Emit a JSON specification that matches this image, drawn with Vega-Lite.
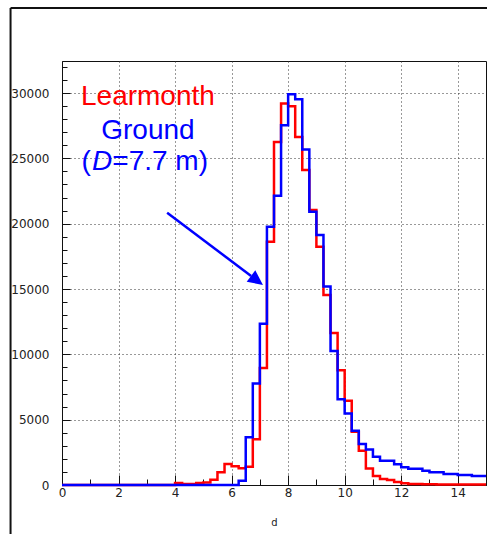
{
  "$schema": "https://vega.github.io/schema/vega-lite/v6.json",
  "width": 424,
  "height": 424,
  "autosize": {"type": "none"},
  "padding": {"left": 62, "top": 61, "right": 1, "bottom": 49},
  "background": "white",
  "config": {
    "view": {"stroke": "#111", "strokeWidth": 1},
    "axis": {"labelFont": "DejaVu Sans", "titleFont": "DejaVu Sans", "labelColor": "#222", "titleColor": "#222", "labelOverlap": false}
  },
  "datasets": {
    "hist": [
      {"series":"Learmonth","d":0,"count":0},{"series":"Learmonth","d":0.25,"count":0},{"series":"Learmonth","d":0.5,"count":0},{"series":"Learmonth","d":0.75,"count":0},
      {"series":"Learmonth","d":1,"count":0},{"series":"Learmonth","d":1.25,"count":0},{"series":"Learmonth","d":1.5,"count":0},{"series":"Learmonth","d":1.75,"count":0},
      {"series":"Learmonth","d":2,"count":0},{"series":"Learmonth","d":2.25,"count":0},{"series":"Learmonth","d":2.5,"count":0},{"series":"Learmonth","d":2.75,"count":0},
      {"series":"Learmonth","d":3,"count":0},{"series":"Learmonth","d":3.25,"count":0},{"series":"Learmonth","d":3.5,"count":0},{"series":"Learmonth","d":3.75,"count":0},
      {"series":"Learmonth","d":4,"count":150},{"series":"Learmonth","d":4.25,"count":80},{"series":"Learmonth","d":4.5,"count":80},{"series":"Learmonth","d":4.75,"count":150},
      {"series":"Learmonth","d":5,"count":200},{"series":"Learmonth","d":5.25,"count":410},{"series":"Learmonth","d":5.5,"count":970},{"series":"Learmonth","d":5.75,"count":1600},
      {"series":"Learmonth","d":6,"count":1430},{"series":"Learmonth","d":6.25,"count":1280},{"series":"Learmonth","d":6.5,"count":1400},{"series":"Learmonth","d":6.75,"count":3500},
      {"series":"Learmonth","d":7,"count":8950},{"series":"Learmonth","d":7.25,"count":18620},{"series":"Learmonth","d":7.5,"count":26250},{"series":"Learmonth","d":7.75,"count":29190},
      {"series":"Learmonth","d":8,"count":28980},{"series":"Learmonth","d":8.25,"count":26640},{"series":"Learmonth","d":8.5,"count":24100},{"series":"Learmonth","d":8.75,"count":21040},
      {"series":"Learmonth","d":9,"count":18240},{"series":"Learmonth","d":9.25,"count":14550},{"series":"Learmonth","d":9.5,"count":11630},{"series":"Learmonth","d":9.75,"count":8780},
      {"series":"Learmonth","d":10,"count":6440},{"series":"Learmonth","d":10.25,"count":4070},{"series":"Learmonth","d":10.5,"count":2620},{"series":"Learmonth","d":10.75,"count":1270},
      {"series":"Learmonth","d":11,"count":690},{"series":"Learmonth","d":11.25,"count":460},{"series":"Learmonth","d":11.5,"count":380},{"series":"Learmonth","d":11.75,"count":230},
      {"series":"Learmonth","d":12,"count":130},{"series":"Learmonth","d":12.25,"count":80},{"series":"Learmonth","d":12.5,"count":70},{"series":"Learmonth","d":12.75,"count":60},
      {"series":"Learmonth","d":13,"count":50},{"series":"Learmonth","d":13.25,"count":40},{"series":"Learmonth","d":13.5,"count":40},{"series":"Learmonth","d":13.75,"count":30},
      {"series":"Learmonth","d":14,"count":30},{"series":"Learmonth","d":14.25,"count":30},{"series":"Learmonth","d":14.5,"count":30},{"series":"Learmonth","d":14.75,"count":30},
      {"series":"Learmonth","d":15,"count":30},
      {"series":"Ground","d":0,"count":0},{"series":"Ground","d":0.25,"count":0},{"series":"Ground","d":0.5,"count":0},{"series":"Ground","d":0.75,"count":0},
      {"series":"Ground","d":1,"count":0},{"series":"Ground","d":1.25,"count":0},{"series":"Ground","d":1.5,"count":0},{"series":"Ground","d":1.75,"count":0},
      {"series":"Ground","d":2,"count":0},{"series":"Ground","d":2.25,"count":0},{"series":"Ground","d":2.5,"count":0},{"series":"Ground","d":2.75,"count":0},
      {"series":"Ground","d":3,"count":0},{"series":"Ground","d":3.25,"count":0},{"series":"Ground","d":3.5,"count":0},{"series":"Ground","d":3.75,"count":0},
      {"series":"Ground","d":4,"count":0},{"series":"Ground","d":4.25,"count":0},{"series":"Ground","d":4.5,"count":0},{"series":"Ground","d":4.75,"count":0},
      {"series":"Ground","d":5,"count":0},{"series":"Ground","d":5.25,"count":0},{"series":"Ground","d":5.5,"count":0},{"series":"Ground","d":5.75,"count":0},
      {"series":"Ground","d":6,"count":0},{"series":"Ground","d":6.25,"count":330},{"series":"Ground","d":6.5,"count":3650},{"series":"Ground","d":6.75,"count":7760},
      {"series":"Ground","d":7,"count":12340},{"series":"Ground","d":7.25,"count":19770},{"series":"Ground","d":7.5,"count":22140},{"series":"Ground","d":7.75,"count":27530},
      {"series":"Ground","d":8,"count":29900},{"series":"Ground","d":8.25,"count":29520},{"series":"Ground","d":8.5,"count":25680},{"series":"Ground","d":8.75,"count":20920},
      {"series":"Ground","d":9,"count":19140},{"series":"Ground","d":9.25,"count":15190},{"series":"Ground","d":9.5,"count":10250},{"series":"Ground","d":9.75,"count":6570},
      {"series":"Ground","d":10,"count":5470},{"series":"Ground","d":10.25,"count":4150},{"series":"Ground","d":10.5,"count":3130},{"series":"Ground","d":10.75,"count":2720},
      {"series":"Ground","d":11,"count":2160},{"series":"Ground","d":11.25,"count":1860},{"series":"Ground","d":11.5,"count":1860},{"series":"Ground","d":11.75,"count":1580},
      {"series":"Ground","d":12,"count":1350},{"series":"Ground","d":12.25,"count":1250},{"series":"Ground","d":12.5,"count":1250},{"series":"Ground","d":12.75,"count":1090},
      {"series":"Ground","d":13,"count":970},{"series":"Ground","d":13.25,"count":970},{"series":"Ground","d":13.5,"count":840},{"series":"Ground","d":13.75,"count":840},
      {"series":"Ground","d":14,"count":760},{"series":"Ground","d":14.25,"count":760},{"series":"Ground","d":14.5,"count":690},{"series":"Ground","d":14.75,"count":690},
      {"series":"Ground","d":15,"count":690}
    ]
  },
  "layer": [
    {
      "data": {"name": "hist"},
      "transform": [{"filter": "datum.series === 'Learmonth'"}],
      "mark": {"type": "line", "interpolate": "step-after", "color": "#ff0000", "strokeWidth": 2.5},
      "encoding": {
        "x": {
          "field": "d", "type": "quantitative",
          "scale": {"domain": [0, 15], "nice": false, "zero": false},
          "axis": {
            "title": "d", "titleFontSize": 10, "titleFontWeight": "normal", "titlePadding": 15,
            "tickCount": 1000, "format": "d",
            "values": [0,0.5,1,1.5,2,2.5,3,3.5,4,4.5,5,5.5,6,6.5,7,7.5,8,8.5,9,9.5,10,10.5,11,11.5,12,12.5,13,13.5,14,14.5,15],
            "labelExpr": "datum.value % 2 === 0 && datum.value < 15 ? datum.label : ''",
            "labelFontSize": 12, "labelPadding": 12, "labelFlush": false,
            "domainColor": "#111", "tickColor": "#111",
            "tickSize": {"condition": {"test": "datum.value % 2 === 0", "value": -10}, "value": -6},
            "grid": true, "gridColor": "#333", "gridDash": [1, 3],
            "gridOpacity": {"condition": {"test": "datum.value % 2 === 0 && datum.value > 0 && datum.value < 15", "value": 1}, "value": 0}
          }
        },
        "y": {
          "field": "count", "type": "quantitative",
          "scale": {"domain": [0, 32450], "nice": false},
          "axis": {
            "title": null, "format": "d",
            "tickCount": 1000,
            "values": [0,1000,2000,3000,4000,5000,6000,7000,8000,9000,10000,11000,12000,13000,14000,15000,16000,17000,18000,19000,20000,21000,22000,23000,24000,25000,26000,27000,28000,29000,30000,31000,32000],
            "labelExpr": "datum.value % 5000 === 0 ? datum.label : ''",
            "labelFontSize": 12, "labelPadding": 21,
            "domainColor": "#111", "tickColor": "#111",
            "tickSize": {"condition": {"test": "datum.value % 5000 === 0", "value": -8}, "value": -5},
            "grid": true, "gridColor": "#333", "gridDash": [1, 3],
            "gridOpacity": {"condition": {"test": "datum.value % 5000 === 0 && datum.value > 0", "value": 1}, "value": 0}
          }
        }
      }
    },
    {
      "data": {"name": "hist"},
      "transform": [{"filter": "datum.series === 'Ground'"}],
      "mark": {"type": "line", "interpolate": "step-after", "color": "#0000ff", "strokeWidth": 2.5},
      "encoding": {
        "x": {"field": "d", "type": "quantitative"},
        "y": {"field": "count", "type": "quantitative"}
      }
    },
    {
      "data": {"values": [{"d": 3.72, "count": 20840, "d2": 6.69, "count2": 15995}]},
      "mark": {"type": "rule", "color": "#0000ff", "strokeWidth": 2.5},
      "encoding": {
        "x": {"field": "d", "type": "quantitative"},
        "y": {"field": "count", "type": "quantitative"},
        "x2": {"field": "d2"},
        "y2": {"field": "count2"}
      }
    },
    {
      "data": {"values": [{"d": 7.11, "count": 15306}]},
      "mark": {"type": "point", "shape": "M0,0L-2,-0.95L-2,0.95Z", "size": 225, "angle": 37, "filled": true, "color": "#0000ff", "opacity": 1},
      "encoding": {
        "x": {"field": "d", "type": "quantitative"},
        "y": {"field": "count", "type": "quantitative"}
      }
    },
    {
      "data": {"values": [
        {"d": 3.04, "count": 29080, "label": "Learmonth", "c": "red"},
        {"d": 3.04, "count": 26480, "label": "Ground", "c": "blue"}
      ]},
      "mark": {"type": "text", "font": "Liberation Sans", "fontSize": 28, "align": "center", "baseline": "alphabetic"},
      "encoding": {
        "x": {"field": "d", "type": "quantitative"},
        "y": {"field": "count", "type": "quantitative"},
        "text": {"field": "label"},
        "color": {"field": "c", "type": "nominal", "scale": {"domain": ["red", "blue"], "range": ["#ff0000", "#0000ff"]}, "legend": null}
      }
    },
    {
      "data": {"values": [{"d": 1.02, "count": 24107, "label": "("}]},
      "mark": {"type": "text", "font": "Liberation Sans", "fontSize": 28, "align": "right", "baseline": "alphabetic", "color": "#0000ff"},
      "encoding": {
        "x": {"field": "d", "type": "quantitative"},
        "y": {"field": "count", "type": "quantitative"},
        "text": {"field": "label"}
      }
    },
    {
      "data": {"values": [{"d": 1.06, "count": 24107, "label": "D"}]},
      "mark": {"type": "text", "font": "Liberation Sans", "fontSize": 28, "fontStyle": "italic", "align": "left", "baseline": "alphabetic", "color": "#0000ff"},
      "encoding": {
        "x": {"field": "d", "type": "quantitative"},
        "y": {"field": "count", "type": "quantitative"},
        "text": {"field": "label"}
      }
    },
    {
      "data": {"values": [{"d": 1.78, "count": 24107, "label": "=7.7 m)"}]},
      "mark": {"type": "text", "font": "Liberation Sans", "fontSize": 28, "align": "left", "baseline": "alphabetic", "color": "#0000ff"},
      "encoding": {
        "x": {"field": "d", "type": "quantitative"},
        "y": {"field": "count", "type": "quantitative"},
        "text": {"field": "label"}
      }
    },
    {
      "data": {"values": [
        {"d": -1.82, "count": 36505, "d2": -1.82, "count2": -3800},
        {"d": -1.82, "count": 36505, "d2": 15.1, "count2": 36505}
      ]},
      "mark": {"type": "rule", "color": "#111", "strokeWidth": 2},
      "encoding": {
        "x": {"field": "d", "type": "quantitative"},
        "y": {"field": "count", "type": "quantitative"},
        "x2": {"field": "d2"},
        "y2": {"field": "count2"}
      }
    }
  ]
}
